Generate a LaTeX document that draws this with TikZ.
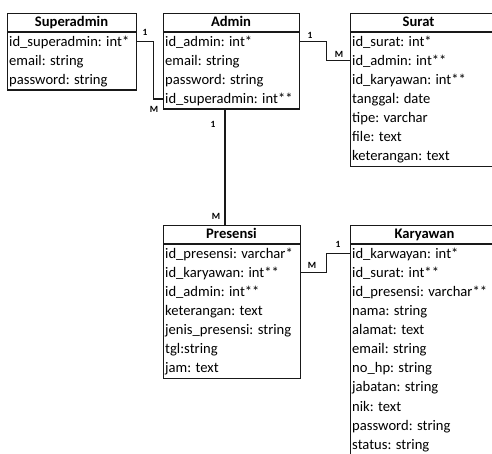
\documentclass[tikz,border=0pt]{standalone}
\usepackage{fontspec}
\setmainfont{Carlito}
\newcommand\erbox[8]{%
  \node[ebox, minimum width=#4pt, minimum height={19pt+#6*19.12pt}] (#1) at (#2,#3) {};
  \draw[eline] (#2,#3+19) -- ++(#4,0);
  \node[etitle] (#1-t) at (#5,#3+9.5) {#7};
  \foreach \t [count=\i] in {#8} {
    \node[erow] (#1-\i) at (#2+2,{#3+19+(\i-1)*19.12+9.56}) {\t};
  }
}
\begin{document}
\begin{tikzpicture}[x=1pt,y=-1pt,
  font=\fontsize{14.6}{17}\selectfont,
  ebox/.style={draw=black!90, line width=1.2pt, anchor=north west, inner sep=0pt},
  eline/.style={draw=black!90, line width=1.2pt},
  etitle/.style={font=\fontsize{14.6}{17}\selectfont\bfseries, inner sep=0pt, text height=10.5pt, text depth=2.5pt},
  erow/.style={anchor=west, inner sep=0pt, text height=11pt, text depth=2pt},
  conn/.style={draw=black!90, line width=1.2pt},
  card/.style={font=\fontsize{9.5}{10}\selectfont\bfseries, inner sep=0pt}]
\useasboundingbox (0,0) rectangle (492,453);
\erbox{sa}{7}{13}{129}{71.5}{3}{Superadmin}{id\_superadmin: int*, email: string, password: string}
\erbox{ad}{163}{13}{136}{231}{4}{Admin}{id\_admin: int*, email: string, password: string, id\_superadmin: int**}
\erbox{su}{350}{13}{150}{418.5}{7}{Surat}{id\_surat: int*, id\_admin: int**, id\_karyawan: int**, tanggal: date, tipe: varchar, file: text, keterangan: text}
\erbox{pr}{163}{225}{137}{231.5}{7}{Presensi}{id\_presensi: varchar*, id\_karyawan: int**, id\_admin: int**, keterangan: text, jenis\_presensi: string, tgl:string, jam: text}
\erbox{ka}{350}{225}{155}{424.5}{11}{Karyawan}{id\_karwayan: int*, id\_surat: int**, id\_presensi: varchar**, nama: string, alamat: text, email: string, no\_hp: string, jabatan: string, nik: text, password: string, status: string}
% connectors
\draw[conn] (sa-1 -| sa.east) -- ++(16,0) |- (ad-4 -| ad.west);
\draw[conn] (ad-1 -| ad.east) -- ++(26,0) |- (su-2 -| su.west);
\coordinate (adb) at (ad.south -| 225,0);
\coordinate (prt) at (pr.north -| 225,0);
\draw[conn] (adb) -- (prt);
\draw[conn] (pr-2 -| pr.east) -- ++(25,0) |- (ka-1 -| ka.west);
% cardinalities
\node[card] (c1a) at (145,32) {1};
\node[card] (c1b) at (154,109) {M};
\node[card] (c2a) at (310,35) {1};
\node[card] (c2b) at (339,54) {M};
\node[card] (c3a) at (213,124) {1};
\node[card] (c3b) at (216,216) {M};
\node[card] (c4a) at (338,244) {1};
\node[card] (c4b) at (312,265) {M};
\end{tikzpicture}
\end{document}
